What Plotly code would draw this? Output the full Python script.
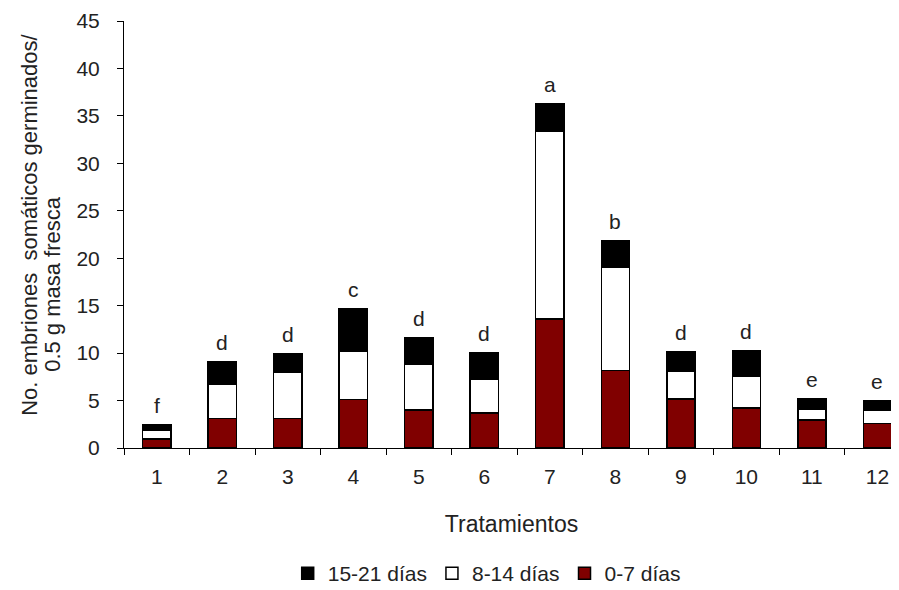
import plotly.graph_objects as go

categories = ["1", "2", "3", "4", "5", "6", "7", "8", "9", "10", "11", "12"]
d0_7 = [0.95, 3.1, 3.1, 5.1, 4.0, 3.7, 13.6, 8.15, 5.15, 4.2, 2.95, 2.6]
d8_14 = [0.95, 3.6, 4.9, 5.05, 4.8, 3.55, 19.8, 10.95, 2.9, 3.4, 1.1, 1.4]
d15_21 = [0.5, 2.4, 1.9, 4.55, 2.8, 2.8, 2.85, 2.7, 2.05, 2.6, 1.1, 1.0]
letters = ["f", "d", "d", "c", "d", "d", "a", "b", "d", "d", "e", "e"]

FONT = "Liberation Sans, Arial, sans-serif"
TXT = "#222"

fig = go.Figure()
fig.add_trace(go.Bar(x=categories, y=d0_7, name="0-7 días",
                     marker=dict(color="#800000", line=dict(color="black", width=1.5))))
fig.add_trace(go.Bar(x=categories, y=d8_14, name="8-14 días",
                     marker=dict(color="white", line=dict(color="black", width=1.5))))
fig.add_trace(go.Bar(x=categories, y=d15_21, name="15-21 días",
                     marker=dict(color="black", line=dict(color="black", width=1.5))))

totals = [a + b + c for a, b, c in zip(d0_7, d8_14, d15_21)]
annotations = []
for i, (tot, let) in enumerate(zip(totals, letters)):
    annotations.append(dict(x=i, y=tot, xref="x", yref="y", text=let, showarrow=False,
                            yanchor="bottom", yshift=6,
                            font=dict(family=FONT, size=21, color=TXT)))

annotations.append(dict(xref="paper", yref="paper", x=-0.1213, y=0.5226,
                        text="No. embriones  somáticos germinados/", textangle=-90,
                        showarrow=False, xanchor="center", yanchor="middle",
                        font=dict(family=FONT, size=22, color=TXT)))
annotations.append(dict(xref="paper", yref="paper", x=-0.0916, y=0.3845,
                        text="0.5 g masa fresca", textangle=-90,
                        showarrow=False, xanchor="center", yanchor="middle",
                        font=dict(family=FONT, size=22, color=TXT)))

fig.update_layout(
    width=891, height=582,
    margin=dict(l=116, r=0, t=13, b=142, autoexpand=False),
    barmode="stack", bargap=0.57,
    paper_bgcolor="white", plot_bgcolor="white",
    font=dict(family=FONT, size=21, color=TXT),
    annotations=annotations,
    showlegend=True,
    legend=dict(orientation="h", traceorder="reversed", x=0.468, xanchor="center",
                y=-0.294, yanchor="middle", itemwidth=30,
                font=dict(family=FONT, size=21, color=TXT)),
    xaxis=dict(type="category", range=[-0.5, 11.33], tickson="boundaries",
               ticks="outside", ticklen=6, tickcolor="black", showline=True,
               linecolor="black", linewidth=1, showgrid=False, ticklabelstandoff=10,
               title=dict(text="Tratamientos", standoff=28,
                          font=dict(family=FONT, size=23, color=TXT))),
    yaxis=dict(range=[0, 45], dtick=5, ticks="outside", ticklen=6, tickcolor="black",
               showline=True, linecolor="black", linewidth=1, showgrid=False,
               zeroline=False, ticklabelstandoff=13),
)

fig.write_html("out.html")
